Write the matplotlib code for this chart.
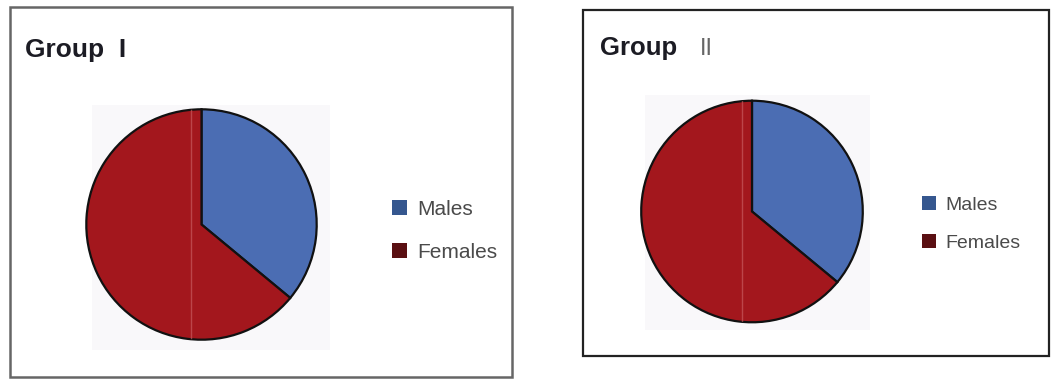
import matplotlib
matplotlib.use("Agg")
import matplotlib.pyplot as plt
from matplotlib.patches import Rectangle, Patch

plt.rcParams['font.family'] = ['Liberation Sans', 'DejaVu Sans']

categories = ["Males", "Females"]
group1_values = [36, 64]
group2_values = [36, 64]
pie_colors = ["#4b6db3", "#a3171d"]
legend_colors = ["#35578f", "#5a0f12"]

W, H = 1052, 379
fig = plt.figure(figsize=(W / 100, H / 100), dpi=100)
fig.patch.set_facecolor("white")


def box(x0, y0, x1, y1):
    return [x0 / W, 1 - y1 / H, (x1 - x0) / W, (y1 - y0) / H]


def panel(rect, ec, lw):
    x0, y0, x1, y1 = rect
    fig.add_artist(Rectangle((x0 / W, 1 - y1 / H), (x1 - x0) / W, (y1 - y0) / H,
                             transform=fig.transFigure, fill=False,
                             edgecolor=ec, linewidth=lw, zorder=5))


def draw_pie(values, pie_box, bg_box, legend_xy, fontsize, spacing):
    fig.add_artist(Rectangle((bg_box[0] / W, 1 - bg_box[3] / H),
                             (bg_box[2] - bg_box[0]) / W, (bg_box[3] - bg_box[1]) / H,
                             transform=fig.transFigure, facecolor="#f9f8fa",
                             edgecolor="none", zorder=0))
    ax = fig.add_axes(box(*pie_box))
    ax.patch.set_alpha(0)
    wedges, _ = ax.pie(values, colors=pie_colors, startangle=90, counterclock=False,
                       wedgeprops=dict(edgecolor="#111111", linewidth=1.6))
    # faint light streak inside the female slice
    ln, = ax.plot([-0.09, -0.09], [-1, 1], color="#c85a5e", lw=1.0, alpha=0.7)
    ln.set_clip_path(wedges[1])
    ax.set_xlim(-1.02, 1.02)
    ax.set_ylim(-1.02, 1.02)
    ax.axis("off")
    handles = [Patch(facecolor=c, edgecolor="none") for c in legend_colors]
    fig.legend(handles, categories, loc="upper left",
               bbox_to_anchor=(legend_xy[0] / W, 1 - legend_xy[1] / H),
               frameon=False, fontsize=fontsize, handlelength=0.7, handleheight=0.7,
               handletextpad=0.5, labelspacing=spacing, borderpad=0, borderaxespad=0,
               labelcolor="#4a4a4a")


# Left panel
panel((10, 7, 512, 377), "#666666", 1.8)
fig.text(25 / W, 1 - 57 / H, "Group  I", fontsize=19, fontweight="bold",
         color="#1c1c24", ha="left", va="baseline")
draw_pie(group1_values, (84, 105, 319, 344), (92, 105, 330, 350), (392, 200), 15, 1.15)

# Right panel
panel((583, 10, 1049, 356), "#222222", 1.6)
fig.text(600 / W, 1 - 55 / H, "Group", fontsize=18.5, fontweight="bold",
         color="#1c1c24", ha="left", va="baseline")
fig.text(700 / W, 1 - 55 / H, "II", fontsize=17, color="#666666",
         ha="left", va="baseline")
draw_pie(group2_values, (639, 95, 865, 328), (645, 95, 870, 330), (922, 196), 14, 1.05)

fig.savefig("out.png", dpi=100, facecolor="white")
